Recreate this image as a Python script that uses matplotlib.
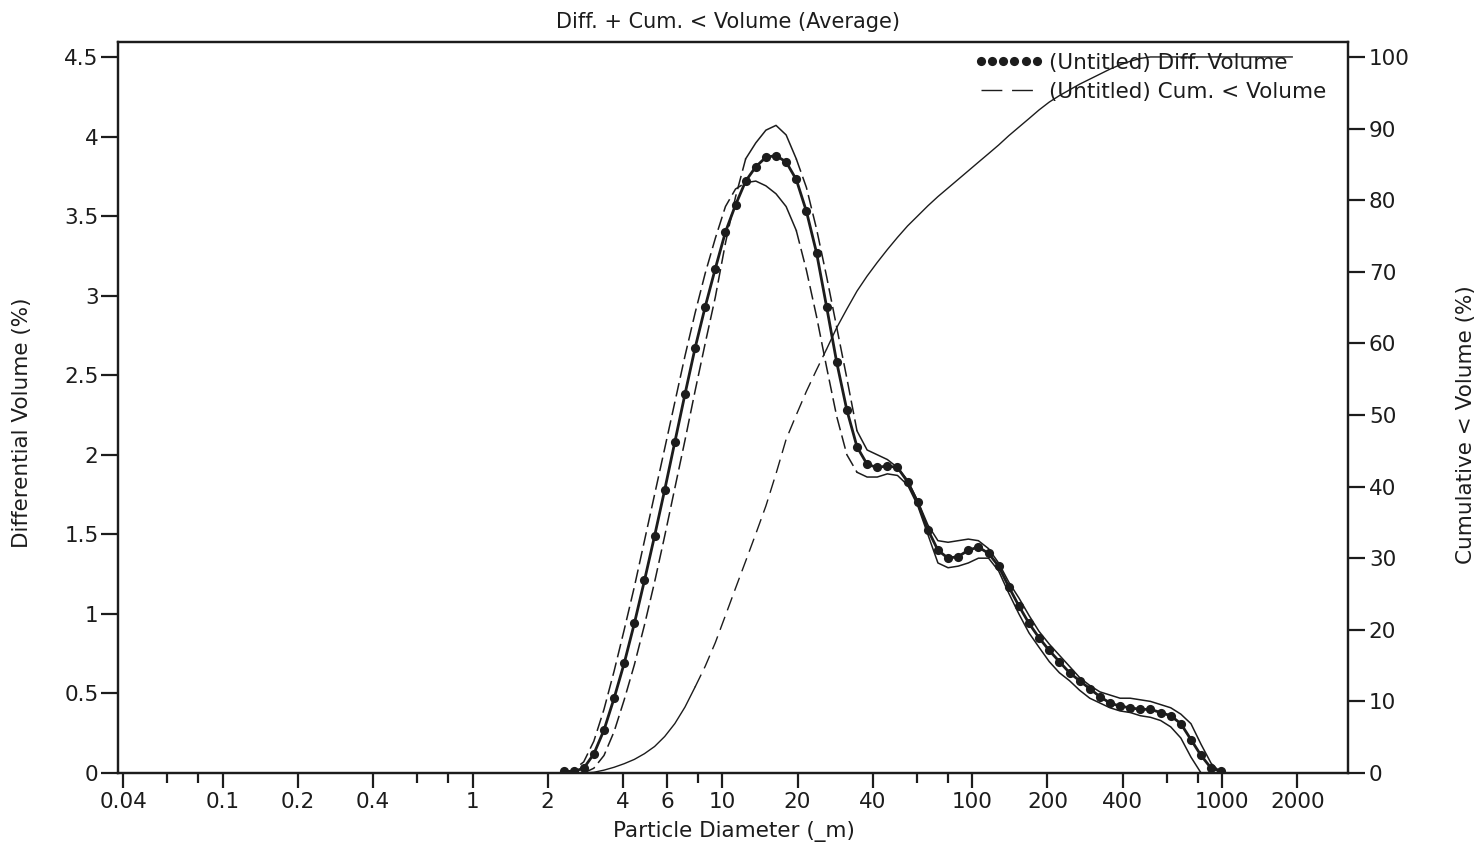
import numpy as np
import matplotlib
matplotlib.use("Agg")
import matplotlib.pyplot as plt
from matplotlib.lines import Line2D
from matplotlib.ticker import FixedLocator, FixedFormatter, NullFormatter

plt.rcParams['font.family'] = ['DejaVu Sans']

# ---------------- data ----------------
diameter_um = [2.313, 2.539, 2.787, 3.059, 3.359, 3.687, 4.047, 4.444, 4.878, 5.355,
               5.879, 6.453, 7.084, 7.776, 8.537, 9.371, 10.29, 11.29, 12.40, 13.61,
               14.94, 16.40, 18.00, 19.76, 21.70, 23.82, 26.14, 28.70, 31.51, 34.59,
               37.97, 41.68, 45.76, 50.23, 55.13, 60.53, 66.44, 72.93, 80.07, 87.90,
               96.49, 105.9, 116.3, 127.6, 140.1, 153.8, 168.9, 185.2, 203.5, 223.4,
               245.3, 269.2, 295.6, 324.4, 356.1, 390.9, 429.2, 471.2, 517.2, 567.8,
               623.3, 684.2, 751.1, 824.5, 905.2, 993.6]

diff_mean = [0.01, 0.01, 0.03, 0.12, 0.27, 0.47, 0.69, 0.94, 1.21, 1.49,
             1.78, 2.08, 2.38, 2.67, 2.93, 3.17, 3.40, 3.57, 3.72, 3.81,
             3.87, 3.88, 3.84, 3.73, 3.53, 3.27, 2.93, 2.58, 2.28, 2.05,
             1.94, 1.92, 1.93, 1.92, 1.83, 1.70, 1.53, 1.40, 1.35, 1.36,
             1.40, 1.42, 1.38, 1.30, 1.17, 1.05, 0.94, 0.85, 0.77, 0.70,
             0.63, 0.58, 0.53, 0.48, 0.44, 0.42, 0.41, 0.40, 0.40, 0.38,
             0.36, 0.31, 0.21, 0.11, 0.03, 0.01]

diff_run_a = [0.00, 0.02, 0.07, 0.20, 0.40, 0.64, 0.90, 1.17, 1.46, 1.75,
              2.04, 2.33, 2.62, 2.89, 3.14, 3.36, 3.56, 3.67, 3.71, 3.72,
              3.69, 3.64, 3.56, 3.41, 3.16, 2.87, 2.55, 2.24, 2.00, 1.89,
              1.86, 1.86, 1.88, 1.87, 1.81, 1.68, 1.50, 1.32, 1.29, 1.30,
              1.32, 1.35, 1.35, 1.27, 1.13, 1.00, 0.88, 0.79, 0.70, 0.63,
              0.58, 0.52, 0.47, 0.44, 0.41, 0.39, 0.38, 0.36, 0.35, 0.33,
              0.29, 0.22, 0.10, 0.00, 0.00, 0.00]

diff_run_b = [0.00, 0.00, 0.00, 0.03, 0.11, 0.26, 0.46, 0.68, 0.93, 1.20,
              1.49, 1.79, 2.09, 2.40, 2.70, 2.99, 3.33, 3.62, 3.86, 3.96,
              4.04, 4.07, 4.01, 3.86, 3.68, 3.42, 3.12, 2.80, 2.48, 2.15,
              2.03, 2.00, 1.97, 1.92, 1.84, 1.71, 1.56, 1.46, 1.45, 1.46,
              1.47, 1.46, 1.41, 1.32, 1.20, 1.10, 0.99, 0.89, 0.81, 0.74,
              0.67, 0.60, 0.55, 0.51, 0.49, 0.47, 0.47, 0.46, 0.45, 0.43,
              0.41, 0.37, 0.31, 0.18, 0.06, 0.00]

cum_diameter_um = diameter_um + [1091, 1198, 1315, 1443, 1585, 1740, 1910]
cum_volume = [0.0, 0.0, 0.0, 0.1, 0.4, 0.8, 1.3, 1.9, 2.7, 3.7,
              5.1, 6.9, 9.2, 12.0, 14.9, 18.2, 22.0, 25.8, 29.6, 33.4,
              37.3, 41.8, 46.6, 50.0, 53.3, 56.3, 59.2, 62.2, 64.8, 67.3,
              69.4, 71.3, 73.1, 74.8, 76.4, 77.8, 79.2, 80.5, 81.7, 82.9,
              84.1, 85.3, 86.5, 87.7, 89.0, 90.2, 91.4, 92.6, 93.7, 94.6,
              95.4, 96.2, 96.9, 97.6, 98.3, 98.9, 99.4, 99.8, 100.0, 100.0,
              100.0, 100.0, 100.0, 100.0, 100.0, 100.0,
              100.0, 100.0, 100.0, 100.0, 100.0, 100.0, 100.0]

x_major = [0.04, 0.1, 0.2, 0.4, 1, 2, 4, 6, 10, 20, 40, 100, 200, 400, 1000, 2000]
x_major_labels = ["0.04", "0.1", "0.2", "0.4", "1", "2", "4", "6", "10", "20", "40",
                  "100", "200", "400", "1000", "2000"]
x_minor = [0.06, 0.08, 0.6, 0.8, 8, 60, 80, 600, 800]
y_left_ticks = [0, 0.5, 1, 1.5, 2, 2.5, 3, 3.5, 4, 4.5]
y_left_labels = ["0", "0.5", "1", "1.5", "2", "2.5", "3", "3.5", "4", "4.5"]
y_right_ticks = [0, 10, 20, 30, 40, 50, 60, 70, 80, 90, 100]

title_text = "Diff. + Cum. < Volume (Average)"
xlabel_text = "Particle Diameter (_m)"
ylabel_left = "Differential Volume (%)"
ylabel_right = "Cumulative < Volume (%)"
legend_labels = ["(Untitled) Diff. Volume", "(Untitled) Cum. < Volume"]

# ---------------- drawing ----------------
INK = "#1c1c1c"
FS = 15.5
W, H = 1479, 846


def plot_split(ax, x, y, dashed_ranges, dash_pattern, **kw):
    x = np.asarray(x, float)
    y = np.asarray(y, float)
    mids = np.sqrt(x[:-1] * x[1:])
    seg_d = np.zeros(len(mids), bool)
    for lo, hi in dashed_ranges:
        seg_d |= (mids >= lo) & (mids <= hi)
    start = 0
    n = len(mids)
    for i in range(1, n + 1):
        if i == n or seg_d[i] != seg_d[start]:
            xs, ys = x[start:i + 1], y[start:i + 1]
            if seg_d[start]:
                ax.plot(xs, ys, dashes=dash_pattern, **kw)
            else:
                ax.plot(xs, ys, ls='-', **kw)
            start = i


fig = plt.figure(figsize=(W / 100, H / 100), dpi=100)
fig.patch.set_facecolor("white")
ax = fig.add_axes([118 / W, 73 / H, 1230 / W, 731 / H])
ax.set_xscale("log")
ax.set_xlim(0.0381, 3194)
ax.set_ylim(0, 4.594)

# individual run envelopes
env_dash = [(2.0, 12.0), (19.5, 35.0)]
plot_split(ax, diameter_um, diff_run_a, env_dash, (9, 3.5), color=INK, lw=1.1)
plot_split(ax, diameter_um, diff_run_b, env_dash, (9, 3.5), color=INK, lw=1.1)
# average
ax.plot(diameter_um, diff_mean, color=INK, lw=2.0, marker='o', ms=6.6,
        mec=INK, mfc=INK, mew=0)

ax2 = ax.twinx()
ax2.set_ylim(0, 4.594 * 100 / 4.5)
plot_split(ax2, cum_diameter_um, cum_volume, [(7.5, 27.0)], (10, 5), color=INK, lw=1.0)

ax.xaxis.set_major_locator(FixedLocator(x_major))
ax.xaxis.set_major_formatter(FixedFormatter(x_major_labels))
ax.xaxis.set_minor_locator(FixedLocator(x_minor))
ax.xaxis.set_minor_formatter(NullFormatter())
ax.yaxis.set_major_locator(FixedLocator(y_left_ticks))
ax.yaxis.set_major_formatter(FixedFormatter(y_left_labels))
ax.yaxis.set_minor_locator(FixedLocator([]))
ax2.yaxis.set_major_locator(FixedLocator(y_right_ticks))
ax2.yaxis.set_minor_locator(FixedLocator([]))

ax.tick_params(axis='x', which='major', direction='out', length=11, width=1.6,
               labelsize=FS, pad=3, colors=INK)
ax.tick_params(axis='x', which='minor', direction='out', length=7, width=1.6, colors=INK)
ax.tick_params(axis='y', which='major', direction='out', length=12, width=1.6,
               labelsize=FS, pad=2, colors=INK)
ax2.tick_params(axis='y', which='major', direction='out', length=12, width=1.6,
                labelsize=FS, pad=3, colors=INK)
for a in (ax, ax2):
    for s in a.spines.values():
        s.set_linewidth(1.6)
        s.set_color(INK)

fig.text(728 / W, 1 - 22 / H, title_text, ha='center', va='center', fontsize=FS - 0.5, color=INK)
fig.text(734 / W, 1 - 831 / H, xlabel_text, ha='center', va='center', fontsize=FS, color=INK)
fig.text(22 / W, 1 - 423 / H, ylabel_left, ha='center', va='center', rotation=90,
         fontsize=FS, color=INK)
fig.text(1466 / W, 1 - 425 / H, ylabel_right, ha='center', va='center', rotation=90,
         fontsize=FS, color=INK)

h1 = Line2D([], [], color=INK, ls='none', marker='o', ms=6.6, mew=0)
h2 = Line2D([], [], color=INK, lw=1.0, dashes=(15, 7))
leg = ax2.legend([h1, h2], legend_labels, loc='upper left',
                 bbox_to_anchor=((970 - 118) / 1230, 0.991), frameon=False,
                 fontsize=FS, numpoints=6, handlelength=3.2, handletextpad=0.25,
                 labelspacing=0.42, borderpad=0.2, borderaxespad=0.0)
for t in leg.get_texts():
    t.set_color(INK)

fig.savefig("out.png", dpi=100, facecolor="white")
